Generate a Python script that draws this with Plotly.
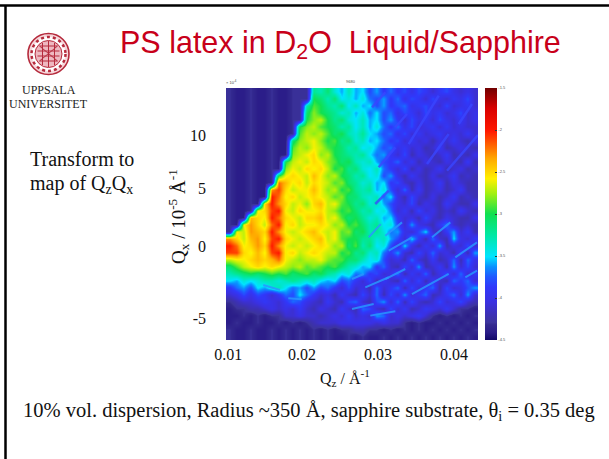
import numpy as np
import plotly.graph_objects as go

W, H = 609, 459
L, R, T, B = 226, 478, 88, 340

# Reflectivity map, log10 intensity x -10, top row first
z_rows = [
[43,44,44,43,44,44,43,44,44,43,43,43,32,33,31,34,36,33,36,35,38,36,39,37,39,38,40,38,39,41,39,38,40,41,40,41],
[43,44,44,43,44,44,43,44,44,43,43,43,30,31,33,31,35,34,36,34,37,38,36,39,37,40,38,39,41,38,40,41,39,40,38,41],
[43,44,44,43,44,44,43,44,44,43,43,33,29,30,32,33,31,35,33,36,35,38,36,39,38,37,40,39,38,40,41,38,41,40,39,41],
[43,44,44,43,44,44,43,44,44,43,43,31,28,30,31,32,34,33,36,34,37,35,38,37,40,38,39,41,38,40,39,41,40,38,41,40],
[43,44,44,43,44,44,43,44,44,43,43,30,28,27,30,32,31,34,35,33,36,35,38,36,39,41,38,40,39,41,38,40,41,39,41,40],
[43,44,44,43,44,44,43,44,44,43,30,28,27,29,30,31,33,32,35,33,36,34,37,39,37,40,38,41,40,39,41,39,41,40,41,41],
[43,44,44,43,44,44,43,44,44,43,29,27,28,27,29,31,30,33,34,32,35,36,38,37,40,38,41,39,41,40,39,41,40,41,39,41],
[43,44,44,43,44,44,43,44,44,31,28,27,26,28,30,29,32,31,34,33,36,35,37,39,38,41,39,41,40,42,40,41,39,41,42,40],
[43,44,44,43,44,44,43,44,44,29,27,28,26,27,29,30,31,33,32,35,34,36,38,37,40,39,41,40,42,41,39,42,41,40,41,42],
[43,44,44,43,44,44,43,44,44,28,27,26,25,28,27,30,31,32,33,32,35,37,36,39,41,38,42,40,41,42,41,39,42,41,42,40],
[43,44,44,43,44,44,43,44,30,27,26,27,25,26,28,29,31,30,33,34,33,36,38,39,37,41,39,42,40,41,42,40,41,42,39,42],
[43,44,44,43,44,44,43,44,28,26,27,25,26,25,27,30,29,32,31,34,35,33,37,39,41,38,42,40,42,41,39,42,41,40,42,41],
[43,44,44,43,44,44,43,30,26,25,26,27,24,26,28,27,30,31,33,32,35,34,38,36,40,42,39,41,42,40,42,41,39,42,41,42],
[43,44,44,43,44,44,43,22,24,26,25,27,25,26,27,29,28,31,32,34,33,36,35,39,38,41,42,40,42,41,39,42,40,41,42,42],
[43,44,44,43,44,44,23,21,25,27,26,26,24,26,28,27,30,29,32,33,32,36,34,38,41,37,42,39,42,41,40,42,41,39,42,42],
[43,44,44,43,44,44,20,22,26,25,27,26,25,26,27,29,28,31,31,33,34,33,37,35,40,42,38,41,42,40,42,41,39,42,41,42],
[43,44,44,43,44,25,20,23,25,27,26,28,25,24,27,26,29,30,32,31,34,33,36,38,40,41,38,42,40,41,42,39,41,42,42,40],
[43,44,44,43,26,25,21,20,26,27,25,26,26,25,27,28,30,29,31,33,32,35,34,37,41,39,42,38,41,40,42,41,42,39,41,42],
[43,44,44,24,25,26,20,22,25,26,27,25,25,24,27,26,29,31,30,32,34,33,36,35,39,41,40,42,38,41,42,40,41,42,42,40],
[43,44,26,23,25,27,22,20,26,25,27,26,26,25,26,28,27,30,29,31,33,32,35,34,38,41,36,40,41,42,39,37,41,42,41,42],
[43,26,27,23,24,25,20,23,26,27,26,25,24,26,27,26,29,28,31,30,33,32,34,37,36,40,41,38,35,41,42,39,36,41,39,42],
[23,25,27,24,23,26,21,20,25,26,27,26,25,24,27,26,29,30,30,32,32,34,33,36,38,41,35,39,42,37,41,42,35,40,41,39],
[20,22,26,25,23,25,20,23,26,27,26,27,26,25,26,28,27,31,29,33,31,35,34,38,41,35,40,42,39,41,36,42,40,41,38,41],
[21,21,25,26,24,26,21,20,26,25,27,26,25,26,27,27,30,29,32,31,34,33,37,39,36,41,42,38,41,37,41,40,42,38,42,36],
[27,26,26,25,24,25,24,22,26,27,28,27,27,26,28,29,29,31,31,33,35,34,38,41,40,42,37,41,42,39,42,41,37,42,37,40],
[31,29,27,26,25,26,25,26,27,28,27,29,28,29,30,29,31,33,34,36,35,39,37,41,42,38,41,36,42,41,39,42,36,41,38,41],
[33,32,31,30,31,30,29,30,29,31,30,29,31,30,32,33,35,34,37,36,39,38,41,40,37,42,39,41,37,42,40,38,41,37,41,39],
[35,36,34,35,34,33,33,34,33,32,33,34,33,35,36,35,38,37,39,41,38,42,39,41,42,37,41,38,42,39,41,42,37,39,37,41],
[39,37,36,38,35,36,34,33,35,37,36,38,36,38,37,39,41,38,41,40,42,37,41,39,37,42,38,41,39,37,42,38,41,40,38,36],
[41,40,38,40,38,39,41,39,37,38,35,37,39,41,40,42,39,41,42,38,41,37,42,38,41,36,41,39,37,42,41,39,37,41,36,41],
[43,42,41,41,40,39,40,41,39,37,38,40,41,42,39,41,42,38,37,41,42,38,36,41,37,42,38,41,42,41,38,41,40,38,41,42],
[44,43,43,42,42,41,40,41,40,41,39,41,42,40,41,42,39,41,42,37,38,41,42,38,41,39,42,41,39,40,41,39,41,43,43,44],
[44,44,43,44,43,44,43,43,41,41,40,41,41,42,41,40,41,39,41,40,41,36,37,41,40,41,40,39,41,43,44,43,44,43,44,43],
[44,43,44,44,43,44,44,43,44,43,44,43,42,41,41,41,40,40,40,40,40,41,40,41,41,43,44,43,44,44,43,44,43,44,43,44],
[43,44,44,43,44,44,43,44,43,44,43,44,43,44,43,44,43,43,42,42,43,43,44,43,44,43,44,43,44,43,44,43,44,43,44,43],
[43,44,44,43,44,44,43,44,43,44,43,44,43,44,43,44,44,43,44,43,44,44,43,44,43,44,43,44,43,44,43,44,43,44,43,44],
]
# Bright scattering streaks: (Qz start, Qz end), (Qx start, Qx end)
streak_qz = [(.02878,.03036),(.03096,.03316),(.03141,.03447),(.03711,.03951),(.04017,.04303),
             (.02658,.02812),(.02899,.03228),(.02658,.02943),(.03096,.03359),(.03447,.03930),
             (.02833,.03141),(.04149,.04303),(.0149,.0171),(.0182,.01996)]
streak_qx = [(.74,1.86),(.87,2.0),(-.4,.74),(.74,2.0),(-.96,.31),
             (-2.8,-2.37),(-5.9,-5.53),(-5.34,-4.92),(-2.8,-1.95),(-4.07,-2.37),
             (-3.5,-2.65),(-2.65,-2.09),(-3.3,-3.73),(-4.43,-4.52)]
faint_qz = [(.03404,.03799),(.03645,.0393),(.03908,.04316),(.03009,.03228),(.04062,.04237),
            (.03228,.03382),(.02964,.03141),(.02921,.03096)]
faint_qx = [(8.64,12.74),(6.95,9.5),(6.38,9.4),(6.67,8.36),(10.34,12.03),
            (10.06,11.19),(3.56,4.69),(11.75,13.03)]
x_tick_labels = ["0.01", "0.02", "0.03", "0.04"]
y_tick_labels = ["10", "5", "0", "-5"]
cbar_ticks = [-1.5, -2, -2.5, -3, -3.5, -4, -4.5]

X_MIN, X_MAX = 0.01, 0.01 + (R - L) / 7600
Y_MAX, Y_MIN = (246 - T) / 11.8, (246 - B) / 11.8

z = (-np.array(z_rows, dtype=float) / 10)[::-1]
nrows, ncols = z.shape
dx = (X_MAX - X_MIN) / ncols
dy = (Y_MAX - Y_MIN) / nrows

colorscale = [
    [0.0, "#120868"], [0.03, "#2a1c88"], [0.06, "#33298f"], [0.07, "#3c349c"], [0.10, "#3c30b4"],
    [0.15, "#3a30e0"], [0.21, "#3038fa"], [0.25, "#2058ff"], [0.29, "#0a90ff"], [0.33, "#00e4ff"],
    [0.42, "#00e8a0"], [0.5, "#10e050"], [0.58, "#a0f010"], [0.64, "#fff000"],
    [0.72, "#ffa800"], [0.83, "#ff1800"], [0.92, "#d80000"], [1.0, "#700000"],
]

fig = go.Figure(go.Heatmap(
    z=z, x0=X_MIN + dx / 2, dx=dx, y0=Y_MIN + dy / 2, dy=dy,
    zmin=-4.5, zmax=-1.5, zsmooth="best", colorscale=colorscale, hoverinfo="skip",
    colorbar=dict(
        x=(485 - L) / (R - L), xanchor="left", xpad=0, ypad=0,
        y=0.5, yanchor="middle", len=1, lenmode="fraction",
        thickness=12, thicknessmode="pixels", outlinewidth=0,
        tickvals=cbar_ticks, ticktext=[str(t) for t in cbar_ticks],
        ticks="inside", ticklen=2, tickcolor="#333333", tickwidth=1,
        tickfont=dict(size=4, color="#555555", family="Liberation Sans"),
    ),
))


def streak_trace(qz, qx, color, width):
    xs, ys = [], []
    for (a, b), (c, d) in zip(qz, qx):
        xs += [a, b, None]
        ys += [c, d, None]
    fig.add_trace(go.Scatter(x=xs, y=ys, mode="lines", hoverinfo="skip", showlegend=False,
                             line=dict(color=color, width=width)))


streak_trace(faint_qz, faint_qx, "rgba(58,70,255,0.8)", 2.5)
streak_trace(streak_qz, streak_qx, "rgba(40,150,255,0.85)", 2)

SERIF = "Liberation Serif"
SANS = "Liberation Sans"
INK = "#111111"


def px(v):
    return (v - L) / (R - L)


def py(v):
    return (B - v) / (B - T)


def note(text, x, y, size, color=INK, family=SERIF, anchor="center", angle=0, yanchor="middle"):
    fig.add_annotation(text=text, x=px(x), y=py(y), xref="paper", yref="paper", showarrow=False,
                       xanchor=anchor, yanchor=yanchor, textangle=angle, borderpad=0,
                       font=dict(size=size, color=color, family=family))


note("PS latex in D<sub>2</sub>O  Liquid/Sapphire", 119, 45, 30.5, "#c8001a", SANS, "left")
note("UPPSALA", 49, 90, 12, "#222222")
note("UNIVERSITET", 48, 104, 12, "#222222")
note("Transform to", 29, 159, 20, anchor="left")
note("map of Q<sub>z</sub>Q<sub>x</sub>", 29, 184, 20, anchor="left")
note("Q<sub>x</sub> / 10<sup>-5</sup> Å<sup>-1</sup>", 178, 217, 19, angle=-90)
note("Q<sub>z</sub> / Å<sup>-1</sup>", 345, 378, 16)
note("10% vol. dispersion, Radius ~350 Å, sapphire substrate, θ<sub>i</sub> = 0.35 deg",
     22, 411, 20.5, anchor="left")
note("9680", 351, 81, 4, "#444444", SANS)
note("× 10<sup>-4</sup>", 231, 82, 4, "#444444", SANS)

shapes = [
    dict(type="line", x0=px(0), x1=px(W), y0=py(5.5), y1=py(5.5), xref="paper", yref="paper",
         line=dict(color="#000000", width=2.5)),
    dict(type="line", x0=px(5.5), x1=px(5.5), y0=py(5), y1=py(H), xref="paper", yref="paper",
         line=dict(color="#000000", width=2.5)),
]
LOGO = "#b52a3c"
CX, CY = 48.5, 54


def circle(r, width, fill="rgba(0,0,0,0)", dash="solid"):
    shapes.append(dict(type="circle", xref="paper", yref="paper",
                       x0=px(CX - r), x1=px(CX + r), y0=py(CY + r), y1=py(CY - r),
                       fillcolor=fill, line=dict(color=LOGO, width=width, dash=dash)))


circle(20.5, 1.6, "#f6d8dc")
circle(17, 2.5, "#ffffff", "dot")
circle(13.5, 1, "#eeb8c0")
for a, b, c, d in [(-11, -3, 11, -3), (-11, 2, 11, 2), (-9, 7, 9, 7), (-9, -8, 9, -8),
                   (-6, -11, -6, 11), (0, -13, 0, 13), (6, -11, 6, 11), (-9, -8, 9, 7), (-9, 7, 9, -8)]:
    shapes.append(dict(type="line", xref="paper", yref="paper",
                       x0=px(CX + a), x1=px(CX + c), y0=py(CY + b), y1=py(CY + d),
                       line=dict(color=LOGO, width=1)))

fig.update_layout(
    width=W, height=H, autosize=False, paper_bgcolor="#ffffff", plot_bgcolor="#ffffff",
    margin=dict(l=L, r=W - R, t=T, b=H - B), showlegend=False, shapes=shapes,
    xaxis=dict(range=[X_MIN, X_MAX], tickvals=[0.0103, 0.02, 0.03, 0.04], ticktext=x_tick_labels,
               showgrid=False, zeroline=False, ticks="", ticklabelstandoff=3,
               tickfont=dict(family=SERIF, size=16, color=INK)),
    yaxis=dict(range=[Y_MIN, Y_MAX], tickvals=[9.4, 4.9, 0, -6.1], ticktext=y_tick_labels,
               showgrid=False, zeroline=False, ticks="", ticklabelstandoff=19,
               tickfont=dict(family=SERIF, size=16, color=INK)),
)
fig.write_html("out.html", config={"displayModeBar": False},
               post_script="document.body.style.margin='0';document.documentElement.style.overflow='hidden';")
